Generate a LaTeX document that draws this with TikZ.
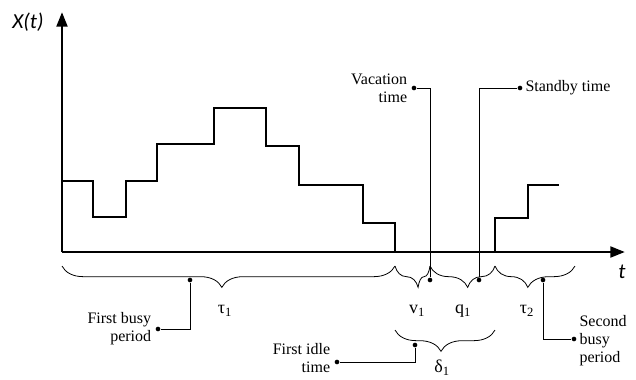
\documentclass[tikz,border=0pt]{standalone}
\usepackage{fontspec}
\setmainfont{Liberation Serif}
\newfontfamily\axisfont{Carlito}
\usetikzlibrary{arrows.meta,decorations.pathreplacing,positioning}

\tikzset{
	axis/.style={line width=2.2pt,-{Triangle[length=11pt,width=8pt]}},
	brc/.style={line width=0.6pt,decorate,decoration={brace,mirror,amplitude=16pt,aspect=#1}},
	dot/.style={circle,fill,inner sep=0pt,minimum size=3.5pt},
	lbl/.style={font=\fontsize{12}{13.5}\selectfont,align=#1,inner sep=0pt},
	sym/.style={font=\fontsize{13.5}{15}\selectfont,inner sep=0pt},
}

\begin{document}
\begin{tikzpicture}[x=0.75pt,y=-0.75pt]
		\useasboundingbox (0,0) rectangle (636,379);

		% axes
		\coordinate (O) at (62,252);
		\coordinate (ytip) at (62,12);
		\coordinate (xtip) at (625,252);
		\draw[axis] (O) -- (ytip);
		\draw[axis] (O) -- (xtip);
		\node[font=\axisfont\itshape\fontsize{16}{18}\selectfont] (xlab) at (28,22) {X(t)};
		\node[font=\axisfont\itshape\fontsize{16}{18}\selectfont] (tlab) at (622,272) {t};

		% number in system
		\draw[line width=1.4pt] (62,181) -| (93,217) -| (126,181) -| (157,144) -| (214,108)
			-| (266,146) -| (299,185) -| (363,223) -| (395,252);
		\draw[line width=1.4pt] (495,252) |- (528,218) |- (559,185);

		% periods
		\draw[brc=0.48] (62,266) -- (395,266);
		\draw[brc=0.66] (395,266) -- (430,266);
		\draw[brc=0.58] (430,266) -- (495,266);
		\draw[brc=0.41] (495,266) -- (575,266);
		\draw[brc=0.46] (395,330) -- (495,330);

		\node[sym] (tau1) at (225,311) {τ\textsubscript{1}};
		\node[sym] (v1) at (417,311) {v\textsubscript{1}};
		\node[sym] (q1) at (463,311) {q\textsubscript{1}};
		\node[sym] (tau2) at (527,311) {τ\textsubscript{2}};
		\node[sym] (delta1) at (442,368) {δ\textsubscript{1}};

		% callouts
		\node[dot] (busy) at (190,280) {};
		\node[dot] (busyend) at (158,329) {};
		\draw[line width=0.6pt] (busy) |- (busyend);
		\node[lbl=right,left=3pt of busyend] (busytxt) {First busy\\period};

		\node[dot] (vac) at (430,280) {};
		\node[dot] (vacend) at (414,88) {};
		\draw[line width=0.6pt] (vac) |- (vacend);
		\node[lbl=right,left=3pt of vacend] (vactxt) {Vacation\\time};

		\node[dot] (stb) at (479,280) {};
		\node[dot] (stbend) at (520,88) {};
		\draw[line width=0.6pt] (stb) |- (stbend);
		\node[lbl=left,right=2pt of stbend] (stbtxt) {Standby time};

		\node[dot] (busy2) at (543,280) {};
		\node[dot] (busy2end) at (574,339) {};
		\draw[line width=0.6pt] (busy2) |- (busy2end);
		\node[lbl=left,right=2pt of busy2end,yshift=-1pt] (busy2txt) {Second\\busy\\period};

		\node[dot] (idle) at (415,345) {};
		\node[dot] (idleend) at (337,362) {};
		\draw[line width=0.6pt] (idle) |- (idleend);
		\node[lbl=right,left=3pt of idleend,yshift=3pt] (idletxt) {First idle\\time};
	\end{tikzpicture}
\end{document}
